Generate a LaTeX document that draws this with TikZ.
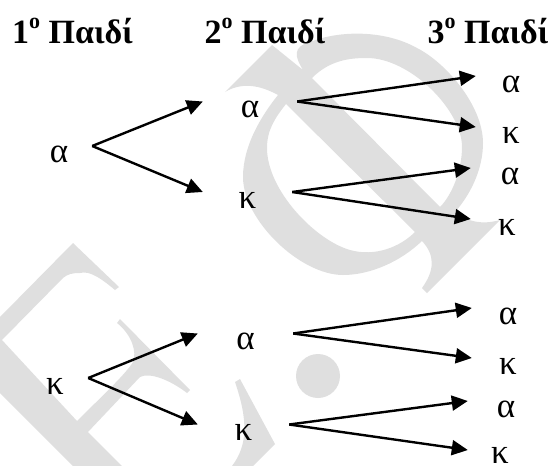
\documentclass[tikz,border=0pt]{standalone}
\usepackage{fontspec}
\setmainfont{Liberation Serif}
\usepackage{tikz}
\usetikzlibrary{positioning,arrows.meta}
\definecolor{wmgray}{HTML}{DFDFDF}
\newcommand{\ordo}{\raisebox{15pt}{\fontsize{22}{22}\selectfont o}}

\begin{document}
\begin{tikzpicture}[x=1pt, y=1pt, on grid,
	main/.style = {inner sep=0pt, minimum width=#1, text height=32pt, text depth=0pt, font=\fontsize{35}{35}\selectfont},
	head/.style = {inner sep=0pt, text height=24pt, text depth=8pt, font=\fontsize{34}{34}\selectfont\bfseries},
	branch/.style = {line width=2.4pt, -{Triangle[length=16pt,width=15pt]}}]
	\useasboundingbox (0,0) rectangle (550,-466);
	% watermark
	\fill[wmgray, even odd rule] (225,-92) -- (272,-45) -- (303,-70)
		.. controls (295,-57) and (292,-47) .. (310,-42)
		.. controls (340,-30) and (385,-30) .. (417,-48)
		.. controls (445,-62) and (483,-105) .. (483,-143)
		.. controls (483,-170) and (470,-195) .. (455,-212)
		.. controls (468,-222) and (482,-225) .. (500,-220)
		-- (427,-293) -- (422,-288)
		.. controls (435,-270) and (435,-255) .. (422,-241)
		.. controls (400,-262) and (370,-275) .. (343,-275)
		.. controls (300,-275) and (243,-220) .. (243,-177)
		.. controls (243,-145) and (262,-115) .. (278,-95)
		.. controls (265,-88) and (245,-80) .. (225,-92) -- cycle
		(312,-78) .. controls (330,-60) and (350,-58) .. (367,-58)
		.. controls (410,-58) and (462,-110) .. (462,-147)
		.. controls (462,-170) and (452,-195) .. (440,-207) -- cycle
		(286,-104) .. controls (275,-118) and (267,-130) .. (267,-148)
		.. controls (267,-190) and (315,-240) .. (350,-250)
		.. controls (375,-257) and (400,-247) .. (415,-232) -- cycle;
	\fill[wmgray] (0,-317) -- (73,-243) -- (119,-287) -- (115,-290)
		.. controls (103,-280) and (90,-270) .. (80,-273)
		.. controls (72,-273) and (68,-274) .. (63,-278)
		-- (2,-340) -- (77,-421)
		.. controls (100,-398) and (125,-375) .. (133,-362)
		.. controls (137,-352) and (132,-335) .. (117,-323)
		-- (120,-319) -- (190,-390) -- (187,-393)
		.. controls (170,-380) and (150,-372) .. (140,-377)
		-- (88,-432) -- (122,-466) -- (73,-466) -- (0,-393) -- cycle;
	\fill[wmgray] (318,-376) circle [radius=22];
	\fill[wmgray] (235,-382) -- (240,-379) -- (275,-444) -- (253,-466) -- (232,-466)
		.. controls (248,-445) and (248,-420) .. (235,-382) -- cycle;
	% headers
	\node[head] (h1) at (72.5,-35) {1\ordo{} Παιδί};
	\node[head] (h2) [right=192.5pt of h1] {2\ordo{} Παιδί};
	\node[head] (h3) [right=223pt of h2] {3\ordo{} Παιδί};
	% first tree
	\node[main=66pt] (a) at (59,-146) {α};
	\node[main=94pt] (aa) [above right=44.5pt and 191pt of a] {α};
	\node[main=89pt] (ak) [below right=46pt and 188.5pt of a] {κ};
	\node[main=70pt] (aaa) [above right=25.5pt and 261pt of aa] {α};
	\node[main=70pt] (aak) [below right=25.5pt and 261pt of aa] {κ};
	\node[main=78pt] (aka) [above right=24pt and 262.5pt of ak] {α};
	\node[main=72pt] (akk) [below right=27pt and 259.5pt of ak] {κ};
	\draw[branch] (a.east) -- (aa.west);
	\draw[branch] (a.east) -- (ak.west);
	\draw[branch] (aa.east) -- (aaa.west);
	\draw[branch] (aa.east) -- (aak.west);
	\draw[branch] (ak.east) -- (aka.west);
	\draw[branch] (ak.east) -- (akk.west);
	% second tree
	\node[main=66pt] (k) at (55,-378) {κ};
	\node[main=95pt] (ka) [above right=44.5pt and 190.5pt of k] {α};
	\node[main=91pt] (kk) [below right=46.5pt and 188.5pt of k] {κ};
	\node[main=72pt] (kaa) [above right=25.5pt and 262.5pt of ka] {α};
	\node[main=72pt] (kak) [below right=24.5pt and 262.5pt of ka] {κ};
	\node[main=76pt] (kka) [above right=23.5pt and 262.5pt of kk] {α};
	\node[main=64pt, text height=26pt] (kkk) [below right=25.5pt and 256.5pt of kk] {κ};
	\draw[branch] (k.east) -- (ka.west);
	\draw[branch] (k.east) -- (kk.west);
	\draw[branch] (ka.east) -- (kaa.west);
	\draw[branch] (ka.east) -- (kak.west);
	\draw[branch] (kk.east) -- (kka.west);
	\draw[branch] (kk.east) -- (kkk.west);
\end{tikzpicture}
\end{document}
